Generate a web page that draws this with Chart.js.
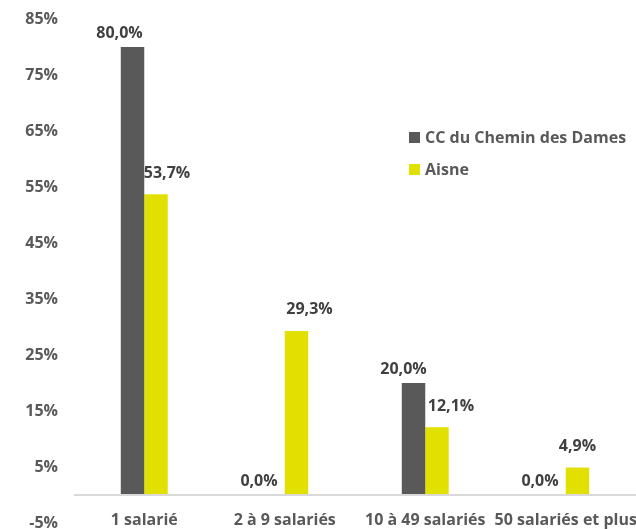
<!DOCTYPE html>
<html>
<head>
<meta charset="utf-8">
<script src="https://cdn.jsdelivr.net/npm/chart.js@4/dist/chart.umd.min.js"></script>
<style>
    html, body { margin: 0; padding: 0; background: #ffffff; }
    #wrap { width: 636px; height: 529px; position: relative; }
</style>
</head>
<body>
<div id="wrap"><canvas id="chart"></canvas></div>
<script>
// === Data ===
const categories = ['1 salarié', '2 à 9 salariés', '10 à 49 salariés', '50 salariés et plus'];
const seriesNames = ['CC du Chemin des Dames', 'Aisne'];
const ccValues = [80.0, 0.0, 20.0, 0.0];
const aisneValues = [53.7, 29.3, 12.1, 4.9];
const yTicks = [-5, 5, 15, 25, 35, 45, 55, 65, 75, 85];

const DARK = '#595959';
const YELLOW = '#e2e000';
const FONT = '"Open Sans", Lato, sans-serif';

// label nudges (Excel-style manual placement)
const labelNudge = [
    { dx: [-13, -14, -10, -14], dy: -14 },
    { dx: [11, 13, 14, 0], dy: -21 }
];

function fmt(v) {
    return v.toFixed(1).replace('.', ',') + '%';
}

// Zero line, category labels, data labels and legend
const decorations = {
    id: 'decorations',
    afterDatasetsDraw(chart) {
        const ctx = chart.ctx;
        const x = chart.scales.x;
        const y = chart.scales.y;
        const area = chart.chartArea;

        // zero axis line
        ctx.save();
        ctx.strokeStyle = '#d9d9d9';
        ctx.lineWidth = 2;
        ctx.beginPath();
        ctx.moveTo(area.left, y.getPixelForValue(0));
        ctx.lineTo(area.right, y.getPixelForValue(0));
        ctx.stroke();

        // category labels at the bottom
        ctx.font = 'bold 16px ' + FONT;
        ctx.fillStyle = DARK;
        ctx.textAlign = 'center';
        ctx.textBaseline = 'middle';
        categories.forEach((c, i) => {
            ctx.fillText(c, x.getPixelForValue(i), y.getPixelForValue(-5) - 3);
        });

        // data labels
        ctx.fillStyle = '#404040';
        chart.data.datasets.forEach((ds, d) => {
            const meta = chart.getDatasetMeta(d);
            meta.data.forEach((bar, i) => {
                const n = labelNudge[d];
                ctx.fillText(fmt(ds.data[i]), bar.x + n.dx[i], bar.y + n.dy);
            });
        });

        // legend
        ctx.textAlign = 'left';
        chart.data.datasets.forEach((ds, d) => {
            const ly = 137 + d * 32;
            ctx.fillStyle = ds.backgroundColor;
            ctx.fillRect(409, ly - 5, 11, 11);
            ctx.fillStyle = DARK;
            ctx.fillText(ds.label, 425, ly + 1);
        });
        ctx.restore();
    }
};

new Chart(document.getElementById('chart'), {
    type: 'bar',
    data: {
        labels: categories,
        datasets: [
            { label: seriesNames[0], data: ccValues, backgroundColor: DARK },
            { label: seriesNames[1], data: aisneValues, backgroundColor: YELLOW }
        ]
    },
    options: {
        responsive: true,
        maintainAspectRatio: false,
        animation: false,
        layout: { padding: { top: 19, bottom: 6, left: 0, right: 0 } },
        datasets: {
            bar: { categoryPercentage: 0.334, barPercentage: 1.0 }
        },
        plugins: {
            legend: { display: false },
            tooltip: { enabled: false }
        },
        scales: {
            x: {
                display: false
            },
            y: {
                min: -5,
                max: 85,
                afterBuildTicks: s => { s.ticks = yTicks.map(v => ({ value: v })); },
                afterFit: s => {
                    s.width = 74;
                    s.paddingTop = 0;
                    s.paddingBottom = 0;
                },
                grid: { display: false, drawTicks: false },
                border: { display: false },
                ticks: {
                    padding: 16,
                    color: DARK,
                    font: { family: FONT, size: 16, weight: 'bold' },
                    callback: v => v + '%'
                }
            }
        }
    },
    plugins: [decorations]
});
</script>
</body>
</html>
